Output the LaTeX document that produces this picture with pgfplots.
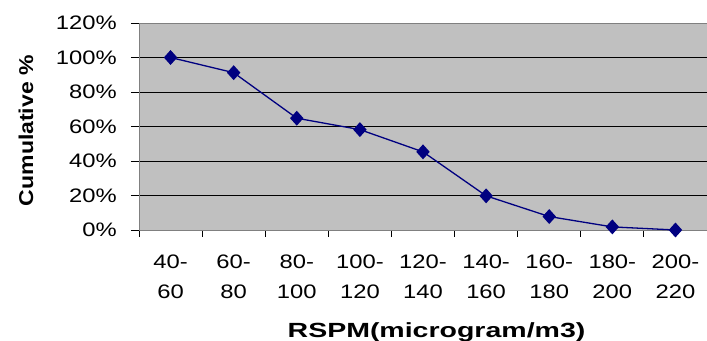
\documentclass[border=0pt]{standalone}
\usepackage{fontspec}
\setmainfont{Liberation Sans}
\newfontfamily\tickfont[FakeStretch=1.22]{Liberation Sans}
\newfontfamily\ylabfont[FakeStretch=1.15]{Liberation Sans}
\newfontfamily\xlabfont[FakeStretch=1.39]{Liberation Sans}
\usepackage{pgfplots}
\pgfplotsset{compat=1.18}

\definecolor{plotbg}{HTML}{C0C0C0}
\definecolor{navyline}{HTML}{000080}
\definecolor{frame}{HTML}{808080}

\begin{document}
\begin{tikzpicture}
\begin{axis}[
  name=main,
  scale only axis,
  width=568pt, height=207pt,
  xmin=-0.5, xmax=8.5,
  ymin=0, ymax=120,
  axis background/.style={fill=plotbg},
  axis line style={frame, line width=0.8pt},
  ytick={0,20,...,120},
  yticklabel={\pgfmathprintnumber{\tick}\%},
  /pgf/number format/assume math mode=true,
  ymajorgrids,
  grid style={black, line width=0.7pt},
  xtick={0,...,8},
  xticklabels={{40-\\60},{60-\\80},{80-\\100},{100-\\120},{120-\\140},{140-\\160},{160-\\180},{180-\\200},{200-\\220}},
  xticklabel style={align=center, inner sep=0pt, font=\tickfont\fontsize{19.5}{30}\selectfont, yshift=-17pt},
  yticklabel style={inner sep=0pt, font=\tickfont\fontsize{19.5}{22}\selectfont, xshift=-14pt},
  minor xtick={-0.5,0.5,...,8.5},
  major x tick style={draw=none},
  minor x tick style={black, line width=0.8pt},
  major y tick style={black, line width=0.8pt},
  tick align=outside,
  major tick length=8pt,
  minor tick length=7pt,
  xtick pos=bottom,
  ytick pos=left,
  xlabel={RSPM(microgram/m3)},
  ylabel={Cumulative \%},
  xlabel style={font=\xlabfont\bfseries\fontsize{20.5}{24}\selectfont,
    at={(axis description cs:0.5238,-0.5217)}, anchor=base},
  ylabel style={font=\ylabfont\bfseries\fontsize{20}{24}\selectfont,
    at={(axis description cs:-0.1990,0.480)}, anchor=center},
  clip=false,
]
\addplot[navyline, line width=1.3pt, mark=diamond*,
  mark size=6.5pt, mark options={xscale=1.2, fill=navyline, draw=navyline}]
  coordinates {
  (0,100) (1,91.2) (2,64.8) (3,58.2) (4,45.3) (5,19.8) (6,7.8) (7,1.8) (8,0)
};
\end{axis}
\pgfresetboundingbox
\path ([shift={(-139pt,-111pt)}]main.south west) rectangle ([shift={(0pt,23pt)}]main.north east);
\end{tikzpicture}
\end{document}
